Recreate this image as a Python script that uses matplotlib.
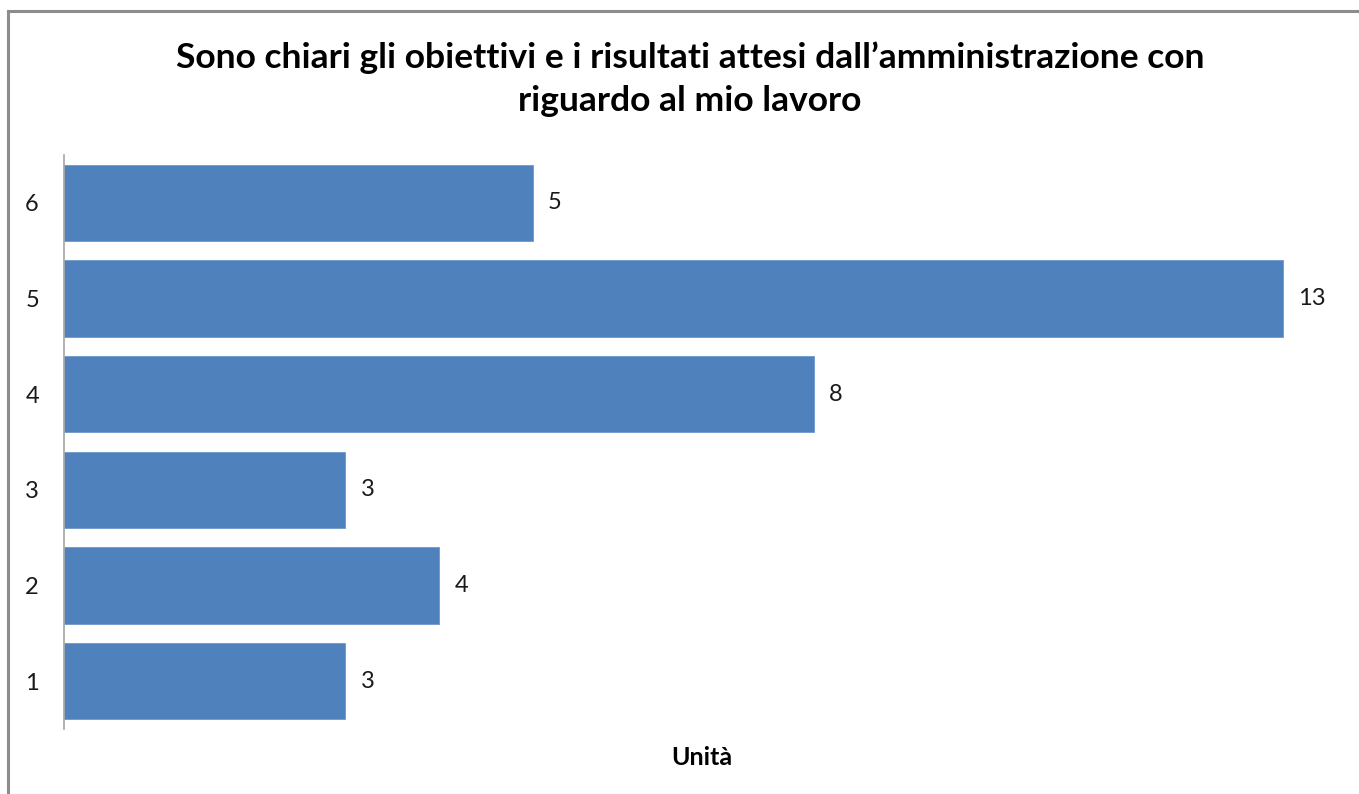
import matplotlib.pyplot as plt
from matplotlib.lines import Line2D

# dati
categorie = ['1', '2', '3', '4', '5', '6']
valori = [3, 4, 3, 8, 13, 5]

titolo = 'Sono chiari gli obiettivi e i risultati attesi dall\u2019amministrazione con\nriguardo al mio lavoro'

plt.rcParams['font.family'] = ['Lato', 'DejaVu Sans']

fig = plt.figure(figsize=(13.59, 7.94), dpi=100)
ax = fig.add_axes([64 / 1359, 1 - 729 / 794, (1339 - 64) / 1359, (729 - 155) / 794])

pos = range(len(categorie))
barre = ax.barh(pos, valori, height=0.8, color='#4F81BD', edgecolor='#6f97c9', linewidth=0.6)

for p, v in zip(pos, valori):
    ax.annotate(str(v), xy=(v, p), xytext=(11, 0), textcoords='offset points',
                ha='left', va='center', fontsize=17, color='#1a1a1a')

ax.set_yticks(list(pos))
ax.set_yticklabels(categorie, fontsize=17, color='#1a1a1a')
ax.tick_params(axis='y', length=0, pad=18)
ax.set_xticks([])
ax.set_ylim(-0.5, len(categorie) - 0.5)
ax.set_xlim(0, 13.6)

for s in ['top', 'right', 'bottom']:
    ax.spines[s].set_visible(False)
ax.spines['left'].set_color('#a6a6a6')
ax.spines['left'].set_linewidth(1.2)

ax.set_xlabel('Unità', fontsize=18, fontweight='bold', labelpad=12)

fig.text(690 / 1359, 1 - 79 / 794, titolo, ha='center', va='center',
         fontsize=25.5, fontweight='bold', linespacing=1.4)

# bordo del grafico (solo in alto e a sinistra, il resto è tagliato)
fig.add_artist(Line2D([8 / 1359, 8 / 1359], [0, 1 - 11 / 794], color='#8c8c8c', lw=2.2,
                      transform=fig.transFigure))
fig.add_artist(Line2D([8 / 1359, 1], [1 - 11 / 794, 1 - 11 / 794], color='#8c8c8c', lw=2.2,
                      transform=fig.transFigure))

fig.savefig('out.png', dpi=100)
